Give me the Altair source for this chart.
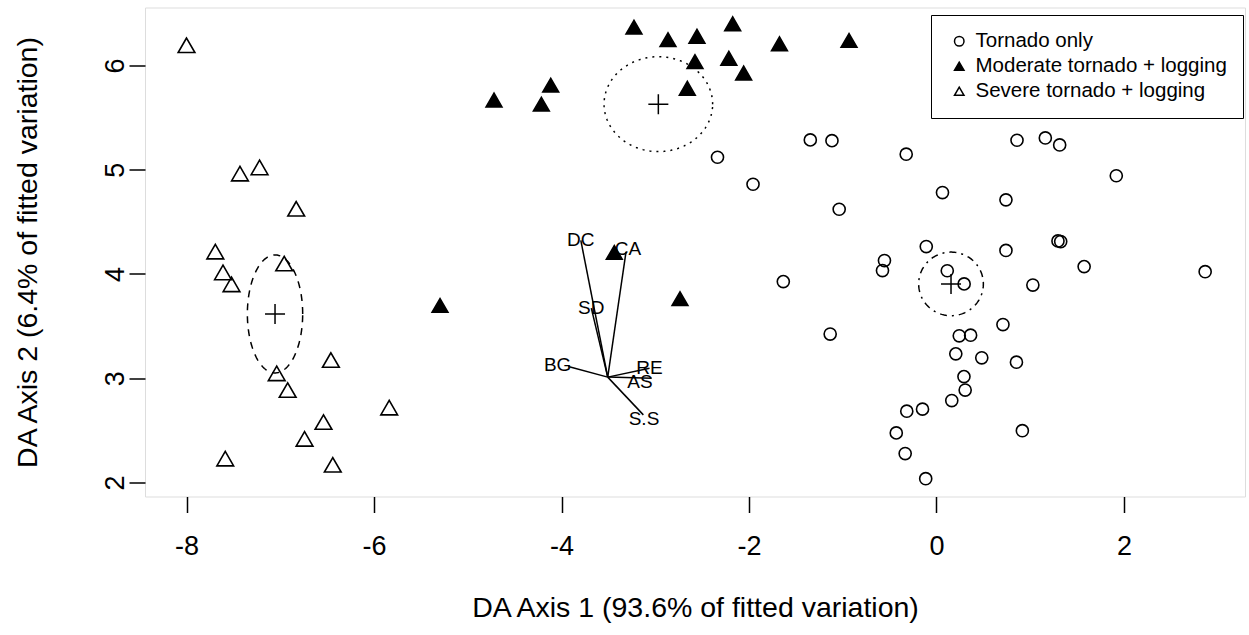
import altair as alt
import numpy as np
import pandas as pd

GROUPS = ["Tornado only", "Moderate tornado + logging", "Severe tornado + logging"]

tornado_x = [-1.346, -1.115, -0.323, -2.336, -1.957, -1.038, -0.109, 0.859, 1.161, 1.314,
             1.918, 0.064, 0.741, 0.741, 1.296, 1.325, -0.555, -0.576, -1.634, 0.115,
             0.295, 1.575, 2.866, 1.028, -1.134, 0.709, 0.243, 0.364, 0.206, 0.483,
             0.853, 0.293, 0.306, 0.163, -0.317, -0.149, -0.429, 0.916, -0.334, -0.115]
tornado_y = [5.286, 5.279, 5.149, 5.120, 4.861, 4.621, 4.263, 5.283, 5.305, 5.238,
             4.942, 4.781, 4.711, 4.226, 4.317, 4.311, 4.129, 4.033, 3.927, 4.031,
             3.905, 4.071, 4.022, 3.894, 3.424, 3.515, 3.407, 3.413, 3.234, 3.196,
             3.154, 3.016, 2.887, 2.786, 2.684, 2.704, 2.476, 2.497, 2.278, 2.037]

moderate_x = [-4.720, -4.215, -4.115, -3.227, -2.864, -2.555, -2.174, -1.675,
              -0.933, -2.576, -2.215, -2.057, -2.658, -5.296, -3.437, -2.736]
moderate_y = [5.669, 5.629, 5.811, 6.367, 6.247, 6.280, 6.400, 6.208,
              6.240, 6.037, 6.069, 5.928, 5.781, 3.699, 4.207, 3.763]

severe_x = [-8.000, -7.430, -7.221, -6.830, -7.693, -7.611, -7.520, -6.958,
            -6.460, -7.038, -6.921, -5.838, -6.539, -6.741, -7.587, -6.440]
severe_y = [6.194, 4.963, 5.022, 4.626, 4.215, 4.015, 3.900, 4.100,
            3.175, 3.047, 2.887, 2.718, 2.580, 2.419, 2.229, 2.170]

# group centroids and ellipse half-axes (tornado, moderate, severe)
centroid_x = [0.155, -2.967, -7.056]
centroid_y = [3.905, 5.629, 3.617]
ellipse_rx = [0.345, 0.579, 0.295]
ellipse_ry = [0.305, 0.455, 0.566]

# biplot vectors
var_names = ["DC", "CA", "SD", "BG", "RE", "AS", "S.S"]
origin_x = -3.507
origin_y = 3.011
tip_x = [-3.794, -3.312, -3.682, -3.927, -3.061, -3.038, -3.127]
tip_y = [4.322, 4.212, 3.672, 3.112, 3.097, 3.001, 2.649]
label_x = [-3.794, -3.291, -3.682, -4.041, -3.061, -3.163, -3.120]
label_y = [4.322, 4.239, 3.672, 3.131, 3.097, 2.968, 2.608]

FONT = "Liberation Sans"

xscale = alt.Scale(domain=[-8.443, 3.291], nice=False, zero=False)
yscale = alt.Scale(domain=[1.866, 6.556], nice=False, zero=False)

xaxis = alt.Axis(values=[-8, -6, -4, -2, 0, 2], labelExpr="datum.value + ''",
                 title="DA Axis 1 (93.6% of fitted variation)", grid=False, domain=False,
                 tickSize=16, tickWidth=1.5, tickColor="black",
                 labelFont=FONT, labelFontSize=27, labelColor="black", labelPadding=34,
                 labelBaseline="middle", labelFlush=False, labelOverlap=False,
                 titleFont=FONT, titleFontSize=28.5, titleFontWeight="normal", titleColor="black",
                 titleY=111, titleBaseline="middle")
yaxis = alt.Axis(values=[2, 3, 4, 5, 6], labelExpr="datum.value + ''",
                 title="DA Axis 2 (6.4% of fitted variation)", grid=False, domain=False,
                 tickSize=16, tickWidth=1.5, tickColor="black",
                 labelFont=FONT, labelFontSize=27, labelColor="black", labelPadding=14,
                 labelAngle=270, labelAlign="center", labelBaseline="middle",
                 labelFlush=False, labelOverlap=False,
                 titleFont=FONT, titleFontSize=28.5, titleFontWeight="normal", titleColor="black",
                 titleX=-118, titleY=244.5, titleAngle=270, titleAlign="center",
                 titleBaseline="middle")

X = alt.X("x:Q", scale=xscale, axis=xaxis)
Y = alt.Y("y:Q", scale=yscale, axis=yaxis)

# points
rows = []
for g, xs, ys in zip(GROUPS, [tornado_x, moderate_x, severe_x], [tornado_y, moderate_y, severe_y]):
    for a, b in zip(xs, ys):
        rows.append({"group": g, "x": a, "y": b})
pts = pd.DataFrame(rows)

legend = alt.Legend(title=None, orient="none", legendX=786, legendY=7.5,
                    strokeColor="black", padding=16, symbolSize=90, symbolStrokeWidth=1.5,
                    symbolStrokeColor="black", labelFont=FONT, labelFontSize=20.5,
                    labelColor="black", rowPadding=4, symbolOffset=2, labelOffset=6,
                    fillColor="white", labelLimit=400)
shape_scale = alt.Scale(domain=GROUPS, range=["circle", "triangle-up", "triangle-up"])
fill_scale = alt.Scale(domain=GROUPS, range=["transparent", "black", "transparent"])
stroke_scale = alt.Scale(domain=GROUPS, range=["black", "black", "black"])

def point_layer(group, size):
    return alt.Chart(pts[pts.group == group]).mark_point(
        filled=True, strokeWidth=1.6, size=size, opacity=1
    ).encode(
        x=X, y=Y,
        shape=alt.Shape("group:N", scale=shape_scale, legend=legend),
        fill=alt.Fill("group:N", scale=fill_scale, legend=legend),
        stroke=alt.Stroke("group:N", scale=stroke_scale, legend=legend),
    )

# ellipses
t = np.linspace(0, 2 * np.pi, 241)
dashes = [[2, 5, 7, 5], [2, 5], [7, 6]]
ell_layers = []
for i in range(3):
    edf = pd.DataFrame({
        "x": centroid_x[i] + ellipse_rx[i] * np.cos(t),
        "y": centroid_y[i] + ellipse_ry[i] * np.sin(t),
        "o": np.arange(len(t)),
    })
    ell_layers.append(
        alt.Chart(edf).mark_line(color="black", strokeWidth=1.5, strokeDash=dashes[i])
        .encode(x=X, y=Y, order="o:Q")
    )

cent = pd.DataFrame({"x": centroid_x, "y": centroid_y})
plus = alt.Chart(cent).mark_point(shape="M-1,0L1,0M0,-1L0,1", size=400, filled=False,
                                  color="black", strokeWidth=1.5, opacity=1).encode(x=X, y=Y)

arr = pd.DataFrame({"x": [origin_x] * len(var_names), "y": [origin_y] * len(var_names),
                    "x2": tip_x, "y2": tip_y})
arrows = alt.Chart(arr).mark_rule(color="black", strokeWidth=1.5).encode(
    x=X, y=Y, x2="x2:Q", y2="y2:Q")

lab = pd.DataFrame({"x": label_x, "y": label_y, "name": var_names})
labels = alt.Chart(lab).mark_text(font=FONT, fontSize=19, color="black", align="center",
                                  baseline="middle").encode(x=X, y=Y, text="name:N")

chart = alt.layer(
    *ell_layers, arrows, labels,
    point_layer(GROUPS[0], 146), point_layer(GROUPS[1], 250), point_layer(GROUPS[2], 280),
    plus,
).properties(
    width=1100, height=489,
    autosize=alt.AutoSizeParams(type="none"),
    padding={"left": 145, "top": 7.5, "right": 4, "bottom": 138.5},
    background="white",
).configure_view(stroke="black", strokeWidth=1.8).configure(font=FONT)

chart.save("out.html", embed_options={"renderer": "svg", "actions": False})
